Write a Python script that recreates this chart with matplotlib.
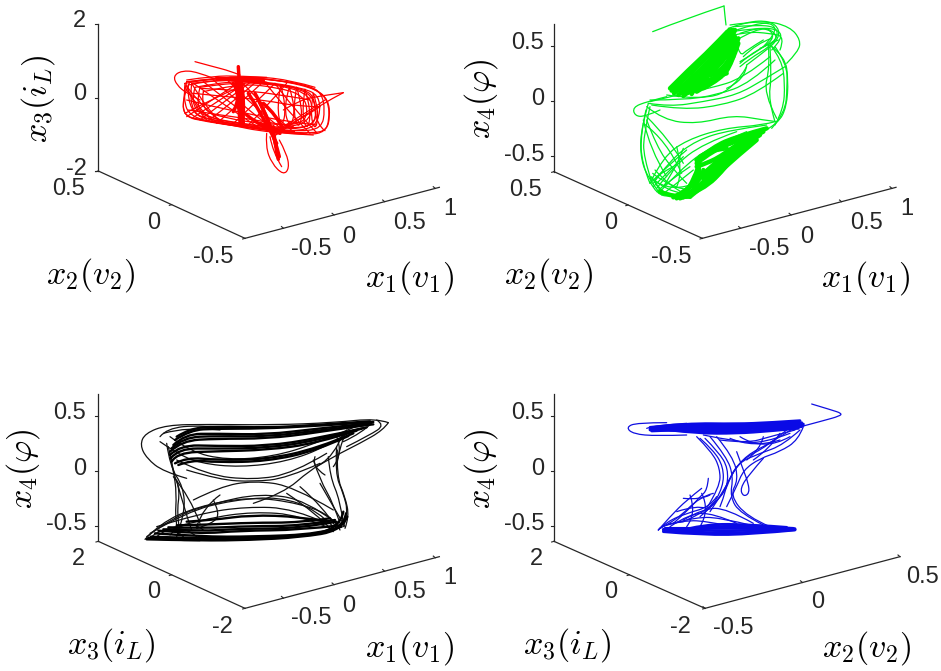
import matplotlib
matplotlib.use('Agg')
import matplotlib.pyplot as plt
from matplotlib.path import Path
from matplotlib.patches import PathPatch

plt.rcParams['font.family'] = ['Liberation Sans', 'DejaVu Sans']
plt.rcParams['mathtext.fontset'] = 'cm'

W, H = 941, 671

# traces, in the plane of each panel
red_lines = [
    [(585,185),(640,200),(690,213),(720,225)],
    [(640,235),(590,215),(545,212),(520,228),(530,255),(560,280),(600,300)],
    [(560,245),(650,235),(760,232),(860,245),(950,268),(985,300),(990,350),(980,390),(940,400),(840,395),(720,380),(620,365),(550,350),(550,290),(560,245)],
    [(555,250),(620,238),(720,232),(830,240),(930,258),(965,280),(975,330),(965,385),(900,395),(780,385),(660,372),(570,350),(550,300),(555,250)],
    [(570,245),(680,228),(800,238),(900,250),(955,272),(985,305),(988,360),(975,395),(930,405),(820,395),(700,375),(600,360),(548,345),(552,280),(570,245)],
    [(585,262),(700,240),(820,250),(930,275),(950,330),(940,380),(840,385),(720,370),(610,350),(572,310),(585,262)],
    [(610,275),(720,250),(830,262),(910,285),(925,340),(900,375),(790,372),(680,355),(600,330),(610,275)],
    [(565,255),(660,235),(790,245),(900,262),(958,285),(960,350),(930,392),(800,392),(680,368),(560,345),(565,255)],
    [(575,250),(670,238),(800,248),(920,268),(945,300),(950,370),(880,390),(760,380),(640,362),(565,335),(575,250)],
    [(600,262),(710,245),(840,255),(935,285),(935,360),(860,385),(740,375),(630,355),(585,320),(600,262)],
    [(640,235),(760,228),(880,242),(945,262)],
    [(560,240),(640,228),(720,228),(800,232)],
    [(620,362),(720,372),(820,392),(920,402)],
    [(580,355),(680,372),(800,398),(940,405)],
    [(560,270),(600,330),(640,365)],
    [(565,265),(625,345),(680,372)],
    [(558,255),(590,330),(620,360)],
    [(575,250),(615,320),(660,365)],
    [(555,340),(640,295),(720,260)],
    [(560,350),(650,290),(730,240)],
    [(580,352),(660,300),(735,250)],
    [(600,360),(680,300),(760,240)],
    [(625,362),(700,305),(775,240)],
    [(650,370),(720,310),(790,245)],
    [(695,375),(760,315),(825,250)],
    [(740,380),(800,320),(860,250)],
    [(580,250),(680,320),(780,385)],
    [(610,245),(705,320),(800,390)],
    [(640,240),(730,320),(830,395)],
    [(680,238),(760,320),(855,395)],
    [(720,240),(790,320),(880,395)],
    [(790,240),(850,320),(930,400)],
    [(825,250),(875,320),(950,398)],
    [(842,255),(830,320),(845,388),(860,320),(842,255)],
    [(868,262),(850,320),(870,388),(888,325),(868,262)],
    [(890,262),(878,325),(895,392),(910,330),(890,262)],
    [(915,268),(905,330),(920,396),(935,335),(915,268)],
    [(940,280),(930,335),(945,396),(958,335),(940,280)],
    [(960,320),(900,360),(830,395)],
    [(975,300),(910,345),(840,385)],
    [(1030,278),(960,315),(880,370),(820,410)],
    [(1030,278),(960,288),(900,300),(850,330)],
    [(800,400),(797,440),(815,490),(850,525),(868,505),(860,460),(838,420)],
    [(810,410),(818,455),(845,500)],
    [(945,330),(950,375),(975,392)],
    [(560,300),(640,320),(740,340),(860,365),(950,375)],
    [(565,330),(660,345),(770,360),(880,380)],
    [(580,280),(680,290),(790,300),(900,320),(960,320)],
    [(600,265),(700,270),(820,280),(930,300)],
]
red_mass = [
    [(715,200),(718,250),(722,310),(730,370)],
    [(722,235),(735,300),(728,372)],
    [(708,240),(715,300),(720,365)],
    [(700,250),(725,290),(700,335)],
    [(745,280),(790,350),(830,430)],
    [(765,280),(810,360),(838,470)],
    [(775,300),(815,370),(828,440)],
    [(820,380),(825,440),(835,478)],
    [(780,370),(830,400),(880,395)],
    [(650,235),(720,240),(800,250)],
    [(790,310),(830,345),(850,390)],
    [(690,235),(740,235),(790,240)],
    [(740,345),(790,385),(840,400)],
]

green_lines = [
    [(548,95),(650,55),(762,18)],
    [(762,18),(765,50),(768,75)],
    [(590,290),(530,305),(488,322),(495,348),(525,350),(570,330)],
    [(775,85),(830,65),(900,62),(930,90),(920,125),(870,165),(830,195)],
    [(790,80),(860,75),(915,80),(925,105),(900,140),(840,175),(810,200)],
    [(780,75),(880,60),(960,80),(992,120),(985,155),(950,190)],
    [(800,120),(860,85),(905,90),(910,120),(860,155),(810,185)],
    [(770,110),(830,95),(900,100),(945,110),(930,150)],
    [(785,95),(850,85),(920,85),(940,115),(905,150)],
    [(810,100),(870,80),(915,95),(920,125),(870,145)],
    [(800,90),(860,70),(910,70),(918,100),(880,140)],
    [(900,135),(945,170),(955,240),(950,320),(925,370),(880,395)],
    [(905,140),(935,180),(945,250),(940,330),(915,375)],
    [(915,140),(950,190),(952,260),(945,340),(905,385)],
    [(900,140),(905,230),(895,300),(915,365)],
    [(895,135),(900,200),(880,280),(920,355)],
    [(540,305),(620,285),(720,265),(820,235),(900,170)],
    [(535,310),(600,320),(700,305),(800,285),(880,240),(945,200)],
    [(545,315),(640,330),(760,315),(860,280),(940,220)],
    [(540,300),(640,300),(740,285),(840,250),(915,180)],
    [(530,320),(580,360),(680,372),(790,345),(880,360),(920,365)],
    [(535,310),(515,380),(510,460),(530,530),(570,580)],
    [(540,320),(522,400),(520,470),(545,545)],
    [(528,330),(512,400),(515,490),(540,550)],
    [(530,360),(560,440),(610,510),(650,550)],
    [(520,360),(540,450),(590,530)],
    [(530,350),(600,420),(640,490)],
    [(520,370),(590,420),(635,520)],
    [(545,540),(580,470),(650,420),(760,385),(880,375),(915,365)],
    [(550,550),(600,480),(680,420),(780,390),(890,375)],
    [(560,565),(610,500),(700,430),(800,395)],
    [(570,575),(630,510),(720,440),(830,395)],
    [(545,530),(570,580),(620,595),(670,580)],
    [(540,545),(560,585),(610,590),(660,570)],
    [(600,590),(560,560),(550,530),(610,500)],
    [(555,510),(600,560),(650,585)],
    [(550,560),(590,520),(640,470)],
    [(540,550),(590,500),(650,450)],
    [(550,540),(600,575),(660,555)],
    [(540,530),(590,575),(640,580)],
    [(548,520),(610,570),(670,570)],
    [(560,575),(600,540),(660,500)],
    [(575,585),(620,550),(670,510)],
    [(620,440),(640,520),(620,560)],
    [(640,445),(620,500),(580,560)],
    [(590,285),(690,300),(790,270),(830,200)],
    [(830,195),(825,240),(770,265)],
    [(800,130),(810,170),(830,150),(880,120)],
    [(820,170),(860,130),(905,115)],
    [(810,190),(860,145),(925,120)],
]
green_mass = [
    [(600,265),(660,205),(720,150),(772,95)],
    [(605,272),(670,212),(730,155),(778,90)],
    [(612,280),(680,220),(740,160),(785,90)],
    [(625,285),(690,228),(750,165),(790,90)],
    [(640,288),(700,235),(760,175),(795,90)],
    [(665,282),(700,215),(745,185),(795,110)],
    [(680,275),(740,240),(770,200),(800,120)],
    [(650,280),(725,250),(775,210),(805,115)],
    [(700,265),(755,235),(785,190),(805,130)],
    [(630,270),(690,230),(730,175),(780,110)],
    [(640,275),(700,225),(725,190),(785,105)],
    [(660,270),(705,222),(760,215),(800,140)],
    [(690,250),(720,200),(760,180),(800,120)],
    [(700,240),(750,200),(790,140)],
    [(720,225),(760,222),(790,170)],
    [(670,262),(720,235),(770,220)],
    [(880,390),(810,420),(730,450),(680,490)],
    [(890,385),(800,410),(730,440),(680,480)],
    [(870,400),(800,445),(765,480),(700,525)],
    [(860,420),(800,470),(740,525),(660,590)],
    [(850,415),(790,465),(730,520),(650,588)],
    [(835,425),(775,490),(720,550),(640,592)],
    [(825,430),(770,500),(700,570),(630,595)],
    [(690,480),(680,530),(640,590)],
    [(685,500),(690,540),(620,595)],
    [(700,510),(700,545),(610,592)],
    [(880,395),(820,425),(780,465),(730,505)],
    [(570,575),(610,592),(660,590)],
    [(690,470),(720,450),(770,445)],
    [(680,500),(710,490),(760,465),(850,400)],
    [(690,530),(730,495),(790,440),(860,400)],
    [(700,535),(750,490),(800,450),(870,405)],
    [(680,480),(700,530),(660,585)],
    [(715,510),(760,490),(810,440)],
]

black_lines = [
    [(1165,128),(1130,115),(1000,128),(820,135),(620,133),(500,135),(435,160),(420,195),(440,235),(490,275),(560,295)],
    [(1165,128),(1150,150),(1080,190),(1000,230),(950,260)],
    [(1130,120),(1155,135),(1110,165),(1040,200)],
    [(510,220),(520,280),(540,330),(530,400),(540,460)],
    [(500,190),(510,260),(550,320),(555,400),(530,470)],
    [(505,200),(520,270),(530,340),(525,420),(535,465)],
    [(520,290),(570,350),(600,430)],
    [(530,300),(550,380),(575,450)],
    [(1010,200),(1005,280),(1030,340),(1045,400),(1030,440)],
    [(1012,210),(1010,290),(1035,350),(1048,410),(1035,445)],
    [(985,230),(990,290),(1020,360),(1030,430)],
    [(940,240),(960,300),(1000,370),(1020,430)],
    [(1030,160),(1000,230),(930,270),(850,340),(760,370)],
    [(435,478),(480,430),(590,380),(750,350),(900,370),(1000,410),(1020,450)],
    [(440,470),(520,410),(640,370),(780,340),(920,360),(1010,430)],
    [(450,460),(560,395),(700,360),(840,350),(950,390),(1000,440)],
    [(470,440),(600,400),(740,380),(880,385),(980,430)],
    [(490,450),(620,415),(760,395),(900,405),(990,445)],
    [(530,240),(620,285),(760,300),(880,280),(980,220)],
    [(560,270),(660,300),(760,305),(860,295),(960,250)],
    [(580,360),(660,320),(760,302),(880,318),(1000,390)],
    [(945,230),(935,260),(975,285)],
    [(640,360),(660,400),(640,430),(590,445)],
    [(590,440),(610,380),(660,345)],
    [(480,170),(500,145),(600,135),(720,145)],
    [(480,185),(530,220),(600,250),(720,262),(860,245),(980,200),(1060,150)],
    [(510,170),(570,215),(680,240),(820,230),(950,190),(1090,130)],
    [(490,160),(560,140),(660,150)],
    [(1120,125),(1085,160),(1030,185)],
    [(1010,170),(1030,220),(1000,260)],
    [(1040,150),(1015,210),(1010,260)],
    [(440,475),(500,482),(600,482)],
    [(455,470),(500,430),(550,470)],
    [(470,470),(530,420),(590,470)],
    [(510,465),(560,410),(610,450)],
    [(960,310),(1000,380),(1035,440)],
    [(900,320),(970,380),(1010,445)],
    [(860,340),(950,400),(1000,455)],
]
black_mass = [
    [(530,170),(570,145),(650,139),(800,143),(950,135),(1110,124)],
    [(525,180),(570,150),(650,146),(780,146),(950,138),(1120,126)],
    [(520,195),(555,162),(650,161),(800,164),(950,146),(1110,130)],
    [(515,205),(550,172),(650,168),(800,170),(950,152),(1120,133)],
    [(510,215),(545,182),(650,176),(800,176),(950,158),(1090,136)],
    [(510,225),(540,195),(650,198),(800,198),(950,176),(1100,142)],
    [(512,235),(535,205),(650,206),(800,204),(950,182),(1085,146)],
    [(515,245),(530,218),(650,214),(800,210),(950,190),(1070,152)],
    [(525,250),(560,232),(650,240),(800,238),(950,206),(1060,160)],
    [(535,255),(575,240),(650,247),(800,244),(950,212),(1045,168)],
    [(440,478),(600,482),(750,480),(900,472),(1025,452),(1042,410)],
    [(445,474),(600,479),(750,477),(900,470),(1030,448),(1038,400)],
    [(452,470),(600,475),(720,474),(890,471),(1020,446),(1030,395)],
    [(465,460),(600,470),(760,470),(960,462),(1025,440)],
    [(475,452),(600,462),(720,452),(900,450),(1020,436)],
    [(490,448),(600,454),(720,446),(900,445),(1010,425)],
    [(505,442),(610,445),(750,438),(900,438),(1005,420)],
    [(530,436),(620,434),(750,428),(900,428),(990,415)],
    [(560,425),(640,420),(750,405),(900,410),(985,425)],
]

blue_lines = [
    [(590,128),(500,128),(468,142),(490,162),(560,168),(650,165)],
    [(530,145),(560,135),(650,130)],
    [(1000,138),(1060,122),(1110,108),(1115,100),(1085,90),(1025,72)],
    [(1000,140),(985,180),(930,215),(870,235),(820,270),(800,320),(770,380)],
    [(990,150),(940,195),(870,220),(800,250),(770,320),(720,395)],
    [(970,145),(900,190),(830,225),(785,280),(760,350),(700,400)],
    [(950,150),(890,200),(820,235),(780,290),(750,360),(690,410)],
    [(690,175),(730,210),(760,260),(760,320),(720,390),(650,420)],
    [(705,175),(745,215),(775,265),(770,330),(750,380)],
    [(680,170),(725,215),(750,265),(750,320),(710,385)],
    [(720,170),(770,230),(790,290),(780,350),(810,400),(880,435)],
    [(740,170),(790,230),(805,300),(780,345),(830,410),(900,440)],
    [(800,215),(820,270),(835,310),(838,340),(820,350),(810,325),(840,280),(880,235)],
    [(715,295),(712,330),(690,350),(650,395),(610,430)],
    [(565,450),(600,410),(650,360),(695,325)],
    [(570,445),(620,420),(690,350),(730,340)],
    [(565,450),(590,425),(650,400),(720,380),(740,350)],
    [(600,440),(660,400),(730,400),(800,430)],
    [(610,430),(680,410),(760,415),(840,435)],
    [(640,420),(700,385),(770,385),(850,430)],
    [(660,345),(680,400),(650,440)],
    [(695,340),(720,390),(690,440)],
    [(750,180),(830,190),(900,170),(975,150)],
    [(780,175),(850,205),(930,180)],
    [(810,170),(880,215),(960,170)],
    [(880,170),(870,210),(830,240)],
    [(930,160),(900,205),(850,240)],
    [(700,165),(800,185),(880,190),(960,160)],
    [(565,450),(580,430),(640,425)],
    [(640,355),(690,360),(720,345)],
    [(620,395),(680,375),(710,385)],
    [(575,440),(640,420),(720,425),(790,440)],
]
blue_mass = [
    [(540,142),(650,130),(800,132),(900,128),(990,122)],
    [(540,147),(650,136),(800,136),(900,133),(995,128)],
    [(540,150),(650,142),(800,142),(900,138),(1000,132)],
    [(545,153),(650,148),(800,148),(900,143),(1000,136)],
    [(560,150),(650,152),(800,155),(900,148),(995,140)],
    [(600,150),(680,160),(800,160),(900,153),(985,145)],
    [(580,455),(700,465),(850,462),(975,450)],
    [(580,450),(700,460),(850,458),(975,449)],
    [(580,448),(700,452),(850,452),(975,448)],
    [(585,445),(700,445),(850,445),(975,446)],
    [(600,452),(700,440),(850,438),(970,445)],
    [(620,455),(700,432),(850,434),(950,442)],
]

x12_ticks = [-0.5, 0, 0.5, 1]
x12_labels = ['-0.5', '0', '0.5', '1']
x2_ticks = [0.5, 0, -0.5]
x2_labels = ['0.5', '0', '-0.5']
x2b_ticks = [-0.5, 0, 0.5]
x2b_labels = ['-0.5', '0', '0.5']
x3_ticks = [2, 0, -2]
x3_labels = ['2', '0', '-2']
x4_ticks = [0.5, 0, -0.5]
x4_labels = ['0.5', '0', '-0.5']

TICK_FS = 17
LABEL_FS = 24.5
THIN = 0.9


def make_axes(left, top, width, height):
    ax = plt.axes([left / W, 1 - (top + height) / H, width / W, height / H])
    ax.set_xlim(0, width * 3)
    ax.set_ylim(height * 3, 0)
    ax.axis('off')
    return ax


# smooth drawing through the read points
def draw_trace(ax, pts, color, lw):
    verts = [pts[0]]
    codes = [Path.MOVETO]
    for i in range(1, len(pts) - 1):
        mid = ((pts[i][0] + pts[i + 1][0]) / 2, (pts[i][1] + pts[i + 1][1]) / 2)
        if i == len(pts) - 2:
            mid = pts[i + 1]
        verts += [pts[i], mid]
        codes += [Path.CURVE3, Path.CURVE3]
    if len(pts) == 2:
        verts.append(pts[1])
        codes.append(Path.LINETO)
    ax.add_patch(PathPatch(Path(verts, codes), fc='none', ec=color, lw=lw,
                           capstyle='round', joinstyle='round'))


def draw_axis(ax, start, end, lo, hi, ticks, tick_dir):
    ax.plot([start[0], end[0]], [start[1], end[1]], color='#262626', lw=0.9, clip_on=False)
    for t in ticks:
        f = (t - lo) / (hi - lo)
        px = start[0] + f * (end[0] - start[0])
        py = start[1] + f * (end[1] - start[1])
        ax.plot([px, px + tick_dir[0]], [py, py + tick_dir[1]], color='#262626', lw=0.8, clip_on=False)


def put_labels(ax, labels, places):
    for s, (px, py) in zip(labels, places):
        ax.text(px, py, s, fontsize=TICK_FS, color='#262626', ha='center', va='center')


def panel(box, apex, corner, x_end, zmax_y, xr, x_ticks, yr, y_ticks, zr, z_ticks):
    ax = make_axes(*box)
    draw_axis(ax, (corner[0], corner[1]), (corner[0], zmax_y), zr[0], zr[1], z_ticks, (-9, 0))
    draw_axis(ax, apex, corner, yr[0], yr[1], y_ticks, (-7, 2))
    draw_axis(ax, apex, x_end, xr[0], xr[1], x_ticks, (-6, -5))
    return ax


fig = plt.figure(figsize=(W / 100, H / 100), dpi=100)

# x1, x2, x3
ax1 = panel((0, 0, 470, 310), (735, 715), (295, 513), (1318, 562), 72,
            (-0.88, 1.04), x12_ticks, (-0.5, 0.5), x2_ticks, (-2, 2), x3_ticks)
for pts in red_lines:
    draw_trace(ax1, pts, '#ff0000', THIN)
for pts in red_mass:
    draw_trace(ax1, pts, '#ff0000', 2.5)
put_labels(ax1, x3_labels, [(238, 62), (238, 283), (228, 507)])
put_labels(ax1, x2_labels, [(205, 568), (460, 668), (640, 772)])
put_labels(ax1, x12_labels, [(935, 748), (1047, 710), (1227, 668), (1348, 627)])
ax1.text(1228, 835, r'$x_1(v_1)$', fontsize=LABEL_FS, ha='center', va='center')
ax1.text(273, 825, r'$x_2(v_2)$', fontsize=LABEL_FS, ha='center', va='center')
ax1.text(115, 295, r'$x_3(i_L)$', fontsize=LABEL_FS, ha='center', va='center', rotation=90)

# x1, x2, x4
ax2 = panel((470, 0, 471, 310), (697, 715), (252, 515), (1278, 562), 72,
            (-0.88, 1.04), x12_ticks, (-0.5, 0.5), x2_ticks, (-0.64, 0.7), x4_ticks)
for pts in green_lines:
    draw_trace(ax2, pts, '#00ee22', THIN)
for pts in green_mass:
    draw_trace(ax2, pts, '#00ee00', 3.2)
put_labels(ax2, x4_labels, [(172, 130), (203, 298), (162, 465)])
put_labels(ax2, x2_labels, [(168, 570), (422, 668), (604, 772)])
put_labels(ax2, x12_labels, [(897, 748), (1010, 710), (1190, 668), (1310, 627)])
ax2.text(1188, 835, r'$x_1(v_1)$', fontsize=LABEL_FS, ha='center', va='center')
ax2.text(235, 825, r'$x_2(v_2)$', fontsize=LABEL_FS, ha='center', va='center')
ax2.text(32, 295, r'$x_4(\varphi)$', fontsize=LABEL_FS, ha='center', va='center', rotation=90, clip_on=False)

# x1, x3, x4
ax3 = panel((0, 380, 470, 291), (735, 685), (295, 484), (1318, 530), 42,
            (-0.88, 1.04), x12_ticks, (-2, 2), x3_ticks[::-1], (-0.64, 0.7), x4_ticks)
for pts in black_lines:
    draw_trace(ax3, pts, '#111111', THIN)
for pts in black_mass:
    draw_trace(ax3, pts, '#000000', 1.7)
put_labels(ax3, x4_labels, [(208, 98), (238, 266), (198, 433)])
put_labels(ax3, x3_labels, [(235, 538), (460, 635), (668, 742)])
put_labels(ax3, x12_labels, [(935, 715), (1047, 678), (1227, 636), (1348, 594)])
ax3.text(1228, 805, r'$x_1(v_1)$', fontsize=LABEL_FS, ha='center', va='center')
ax3.text(333, 795, r'$x_3(i_L)$', fontsize=LABEL_FS, ha='center', va='center')
ax3.text(68, 265, r'$x_4(\varphi)$', fontsize=LABEL_FS, ha='center', va='center', rotation=90)

# x2, x3, x4
ax4 = panel((470, 380, 471, 291), (705, 685), (252, 484), (1290, 530), 42,
            (-0.5, 0.5), x2b_ticks, (-2, 2), x3_ticks[::-1], (-0.64, 0.7), x4_ticks)
for pts in blue_lines:
    draw_trace(ax4, pts, '#1010e0', THIN)
for pts in blue_mass:
    draw_trace(ax4, pts, '#0a0ae6', 2.0)
put_labels(ax4, x4_labels, [(172, 98), (203, 266), (162, 433)])
put_labels(ax4, x3_labels, [(198, 538), (422, 635), (632, 742)])
put_labels(ax4, x2b_labels, [(790, 745), (1042, 665), (1358, 590)])
ax4.text(1190, 805, r'$x_2(v_2)$', fontsize=LABEL_FS, ha='center', va='center')
ax4.text(293, 795, r'$x_3(i_L)$', fontsize=LABEL_FS, ha='center', va='center')
ax4.text(32, 265, r'$x_4(\varphi)$', fontsize=LABEL_FS, ha='center', va='center', rotation=90, clip_on=False)

fig.savefig('out.png', dpi=100)
